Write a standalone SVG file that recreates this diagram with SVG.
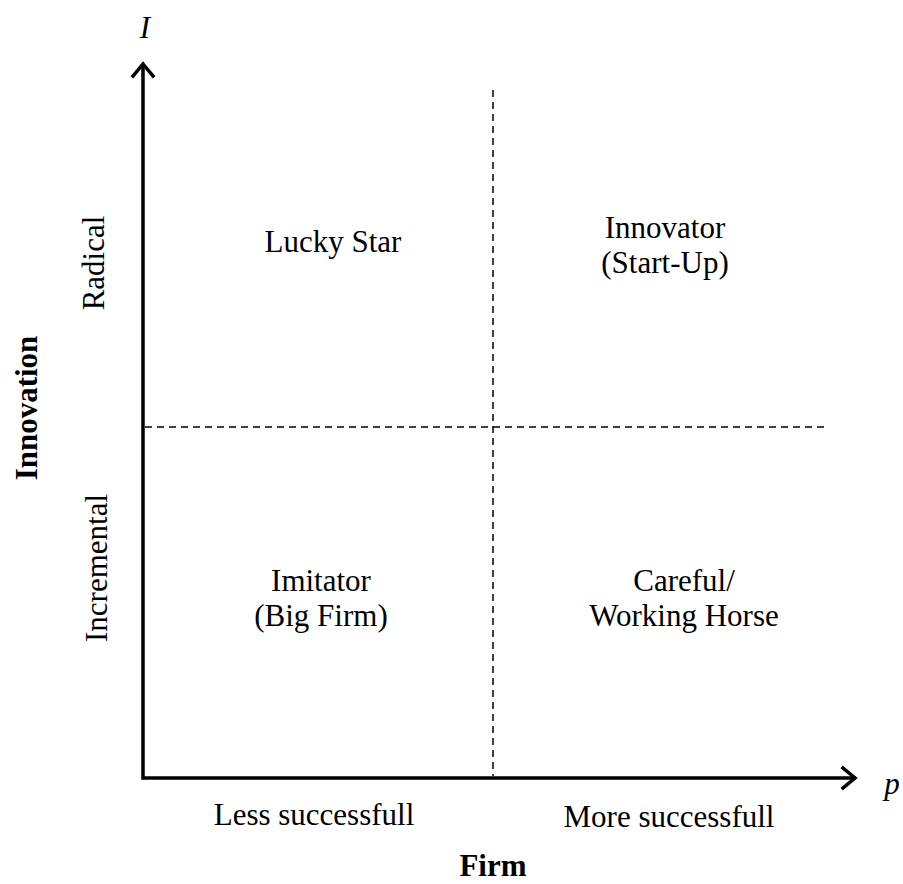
<svg xmlns="http://www.w3.org/2000/svg" width="903" height="884" viewBox="0 0 903 884">
<style>
.t{font-family:"Liberation Serif","Times New Roman",serif;font-size:31px;fill:#000;text-anchor:middle}
.b{font-weight:bold}
.i{font-style:italic}
.ax{stroke:#000;stroke-width:3.5;fill:none}
.ah{stroke:#000;stroke-width:3.5;fill:none;stroke-linecap:square}
.d{stroke:#000;stroke-width:1.5;stroke-dasharray:7 5;fill:none}
</style>
<rect width="903" height="884" fill="#fff"/>
<g id="connectors">
<path class="ax" d="M143 64 V778 H856"/>
<path class="ah" d="M133 76 L143 64 L153 76"/>
<path class="ah" d="M843 768 L855 778 L843 788"/>
<line class="d" x1="493" y1="90" x2="493" y2="776"/>
<line class="d" x1="145" y1="427" x2="826" y2="427"/>
</g>
<g id="axis-labels">
<text class="t i" x="145" y="38">I</text>
<text class="t i" x="892" y="794">p</text>
<text class="t" x="314" y="825">Less successfull</text>
<text class="t" x="669" y="827">More successfull</text>
<text class="t b" x="493" y="876">Firm</text>
<text class="t b" transform="translate(37,408) rotate(-90)">Innovation</text>
<text class="t" transform="translate(104,263) rotate(-90)">Radical</text>
<text class="t" transform="translate(107,568) rotate(-90)">Incremental</text>
</g>
<g id="lucky-star"><text class="t" x="333" y="252">Lucky Star</text></g>
<g id="innovator"><text class="t" x="665" y="238">Innovator</text><text class="t" x="665" y="273">(Start-Up)</text></g>
<g id="imitator"><text class="t" x="321" y="591">Imitator</text><text class="t" x="321" y="626">(Big Firm)</text></g>
<g id="careful"><text class="t" x="684" y="591">Careful/</text><text class="t" x="684" y="626">Working Horse</text></g>
</svg>
